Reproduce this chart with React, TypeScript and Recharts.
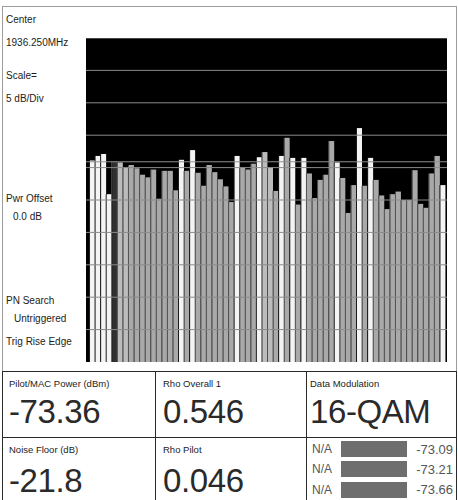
import { BarChart, Bar, XAxis, YAxis, CartesianGrid, ReferenceLine } from "recharts";

// code-domain power per code channel, dB (5 dB/div, 0 dB at top of graticule)
const CODE_POWER = [
    -18.9, -18.2, -17.9, -24.1, -19.0, -19.2, -20.0, -19.6,
    -20.1, -21.1, -21.5, -20.3, -24.8, -20.5, -20.5, -23.5,
    -18.8, -20.5, -17.3, -20.8, -22.8, -19.6, -20.7, -21.8,
    -22.9, -25.3, -18.2, -20.0, -20.3, -19.4, -18.4, -17.6,
    -20.0, -23.6, -18.2, -15.4, -18.5, -25.7, -18.5, -20.9,
    -24.7, -21.9, -21.1, -15.9, -19.2, -21.6, -27.0, -22.7,
    -13.9, -22.8, -18.5, -21.9, -24.3, -26.4, -24.1, -23.7,
    -25.0, -25.0, -20.4, -25.6, -26.2, -20.9, -18.2, -22.7,
];
// w = pilot/active (white), g = MAC, l = light, d = dark
const BAR_KIND = "wwwwdllggggggggg" + "wgwggggggg" + "wgggwllgwgwgwggggg" + "wgggwgwgggggggggggg" + "wg";
const FLOOR_DB = -50;
const GRID_DB = [0, -5, -10, -15, -20, -25, -30, -35, -40, -45];
const THRESHOLD_DB = -19.1;

const SIDE_LABELS = [
    { text: "Center", x: 6, y: 15 },
    { text: "1936.250MHz", x: 6, y: 38 },
    { text: "Scale=", x: 6, y: 71 },
    { text: "5 dB/Div", x: 6, y: 94 },
    { text: "Pwr Offset", x: 6, y: 194 },
    { text: "0.0 dB", x: 13, y: 212 },
    { text: "PN Search", x: 6, y: 296 },
    { text: "Untriggered", x: 14, y: 314 },
    { text: "Trig Rise Edge", x: 6, y: 337 },
];

const TOP_CELLS = [
    { label: "Pilot/MAC Power (dBm)", value: "-73.36", x: 9 },
    { label: "Rho Overall 1", value: "0.546", x: 163 },
    { label: "Data Modulation", value: "16-QAM", x: 310 },
];
const BOTTOM_CELLS = [
    { label: "Noise Floor (dB)", value: "-21.8", x: 9 },
    { label: "Rho Pilot", value: "0.046", x: 163 },
];
const MAC_NAMES = ["N/A", "N/A", "N/A"];
const MAC_VALUES = ["-73.09", "-73.21", "-73.66"];

const KIND_FILL: Record<string, string> = { w: "#f4f4f4", g: "#a9a9a9", l: "#bcbcbc", d: "#303030" };

const BarShape = (props: any) => {
    const { x, y, width, height, payload } = props;
    const kind = payload.kind;
    return (
        <g>
            <rect x={x} y={y} width={1} height={height} fill={kind === "w" ? "#1a1a1a" : "#505050"} />
            <rect x={x + 1} y={y} width={Math.max(width - 1, 0)} height={height} fill={KIND_FILL[kind]} />
        </g>
    );
};

const App = () => {
    const data = CODE_POWER.map((p, i) => ({ code: i, power: p, kind: BAR_KIND[i] }));
    const txt = { position: "absolute" as const, whiteSpace: "nowrap" as const };

    return (
        <div style={{ position: "absolute", left: 0, top: 0, width: 458, height: 500, background: "#fff", overflow: "hidden",
            fontFamily: "'Liberation Sans', Arial, sans-serif", color: "#1c1c1c" }}>
            {/* upper frame */}
            <div style={{ position: "absolute", left: 2, top: 6, width: 455, height: 366, border: "1px solid #9c9c9c", boxSizing: "border-box" }} />

            {SIDE_LABELS.map((l) => (
                <div key={l.text} style={{ ...txt, left: l.x, top: l.y, fontSize: 10, lineHeight: "10px" }}>{l.text}</div>
            ))}

            {/* code domain graticule */}
            <div style={{ position: "absolute", left: 86, top: 38 }}>
                <BarChart width={361} height={324} data={data} margin={{ top: 0, right: 0, bottom: 0, left: 0 }}
                    barCategoryGap={0}>
                    <CartesianGrid fill="#000" fillOpacity={1} horizontal={false} vertical={false} />
                    <XAxis dataKey="code" hide padding={{ left: 3, right: 2 }} />
                    <YAxis hide type="number" domain={[FLOOR_DB, 0]} />
                    <Bar dataKey={(d: any) => [FLOOR_DB, d.power]} isAnimationActive={false} shape={BarShape} />
                    {GRID_DB.map((v) => (
                        <ReferenceLine key={v} y={v} stroke="#8a8a8a" strokeWidth={1} />
                    ))}
                    <ReferenceLine y={THRESHOLD_DB} stroke="#8e8e8e" strokeWidth={1} />
                </BarChart>
            </div>

            {/* results table */}
            <div style={{ position: "absolute", left: 2, top: 371, width: 455, height: 140, border: "1px solid #2a2a2a", boxSizing: "border-box" }} />
            <div style={{ position: "absolute", left: 155, top: 371, width: 1, height: 129, background: "#2a2a2a" }} />
            <div style={{ position: "absolute", left: 306, top: 371, width: 1, height: 129, background: "#2a2a2a" }} />
            <div style={{ position: "absolute", left: 2, top: 437, width: 455, height: 1, background: "#2a2a2a" }} />

            {TOP_CELLS.map((c) => (
                <div key={c.label}>
                    <div style={{ ...txt, left: c.x, top: 378.5, fontSize: 9.5, lineHeight: "10px" }}>{c.label}</div>
                    <div style={{ ...txt, left: c.x, top: 395, fontSize: 33, lineHeight: "33px", color: "#2a2a2a", letterSpacing: -0.4 }}>{c.value}</div>
                </div>
            ))}
            {BOTTOM_CELLS.map((c) => (
                <div key={c.label}>
                    <div style={{ ...txt, left: c.x, top: 444.5, fontSize: 9.5, lineHeight: "10px" }}>{c.label}</div>
                    <div style={{ ...txt, left: c.x, top: 464, fontSize: 33, lineHeight: "33px", color: "#2a2a2a", letterSpacing: -0.4 }}>{c.value}</div>
                </div>
            ))}
            {MAC_NAMES.map((n, i) => (
                <div key={i}>
                    <div style={{ ...txt, left: 312, top: 443 + i * 20.3, fontSize: 12, lineHeight: "12px", color: "#555" }}>{n}</div>
                    <div style={{ position: "absolute", left: 341, top: 441 + i * 20.3, width: 66, height: 16, background: "#6e6e6e" }} />
                    <div style={{ ...txt, right: 5, top: 442.5 + i * 20.3, fontSize: 13, lineHeight: "13px", color: "#555" }}>{MAC_VALUES[i]}</div>
                </div>
            ))}
        </div>
    );
};

export default App;
